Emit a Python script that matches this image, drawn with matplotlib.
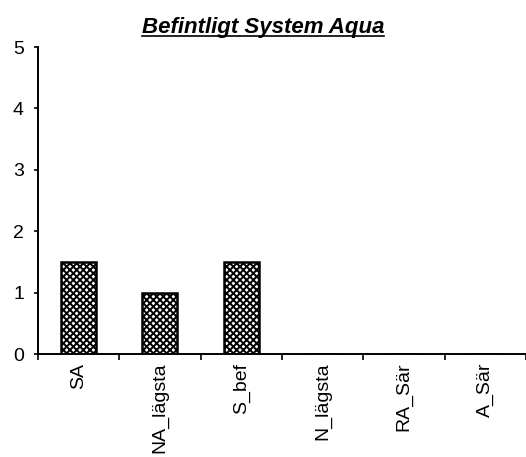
import matplotlib
matplotlib.use("Agg")
import matplotlib.pyplot as plt
import numpy as np

plt.rcParams['font.family'] = ['Liberation Sans', 'DejaVu Sans']
plt.rcParams['hatch.linewidth'] = 1.4

categories = ['SA', 'NA_lägsta', 'S_bef', 'N_lägsta', 'RA_Sär', 'A_Sär']
values = [1.5, 1.0, 1.5, 0, 0, 0]
yticks = [0, 1, 2, 3, 4, 5]

fig = plt.figure(figsize=(5.26, 4.57), dpi=100)
ax = fig.add_axes([0.072, 0.225, 0.928, 0.672])

x = np.arange(len(categories))
ax.bar(x, values, width=0.43, color='white', edgecolor='black',
       linewidth=1.8, hatch='xxxxx')

ax.set_xlim(-0.5, len(categories) - 0.5)
ax.set_ylim(0, 5)
ax.set_yticks(yticks)
ax.set_yticklabels([str(v) for v in yticks], fontsize=14,
                   va='center_baseline')

# category ticks sit between bars, labels sit under bar centres
ax.set_xticks(np.arange(len(categories) + 1) - 0.5)
ax.set_xticklabels([])
ax.set_xticks(x, minor=True)
ax.set_xticklabels(categories, minor=True, rotation=90, fontsize=14,
                   va='top', ha='center')
ax.tick_params(axis='x', which='minor', length=0, pad=6)
ax.tick_params(axis='x', which='major', length=4, width=1.2, direction='out')
ax.tick_params(axis='y', length=3, width=1.2, direction='out', pad=7)

for s in ['top', 'right']:
    ax.spines[s].set_visible(False)
for s in ['left', 'bottom']:
    ax.spines[s].set_linewidth(1.4)

# underlined italic title above the axes
ttl = fig.text(0.5, 1 - 33 / 457, 'Befintligt System Aqua', fontsize=16,
               style='italic', fontweight='bold', ha='center', va='baseline')
fig.canvas.draw()
bb = ttl.get_window_extent().transformed(fig.transFigure.inverted())
y_ul = 1 - 35.5 / 457
fig.add_artist(plt.Line2D([bb.x0, bb.x1], [y_ul, y_ul],
                          color='black', linewidth=1.2,
                          transform=fig.transFigure))

plt.savefig('out.png', dpi=100)
